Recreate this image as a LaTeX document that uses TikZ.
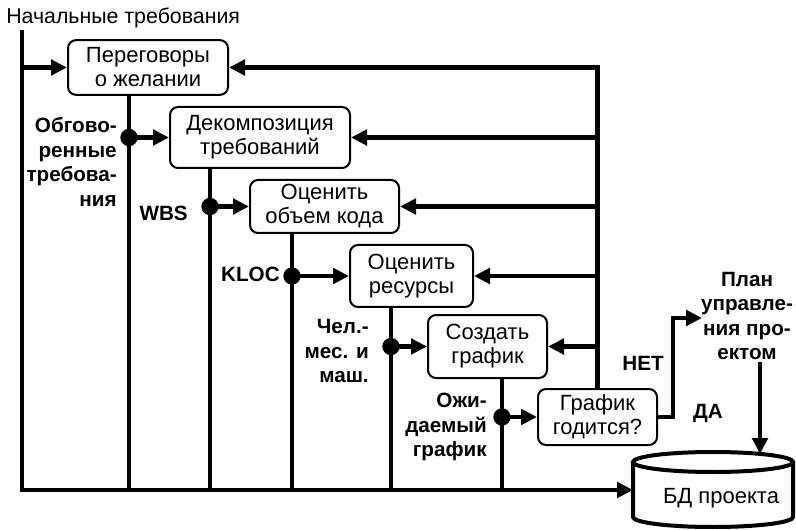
\documentclass[tikz,border=0pt]{standalone}
\usepackage{fontspec}
\setmainfont{Liberation Sans}
\usetikzlibrary{arrows.meta, positioning, calc}

\tikzset{
  block/.style={draw, line width=1.5pt, rounded corners=6pt, align=center,
    inner sep=0pt, font=\fontsize{16.5}{18}\selectfont},
  flow/.style={line width=3.5pt},
  arr/.style={flow, -{Triangle[length=12pt, width=11.5pt]}},
  lbl/.style={inner sep=0pt, font=\fontsize{15.5}{18.3}\selectfont\bfseries},
  dot/.style={circle, fill, inner sep=0pt, minimum size=13pt}
}

\begin{document}
\begin{tikzpicture}[x=0.75pt, y=0.75pt]
        \useasboundingbox (0,0) rectangle (796,529);

        % Draw the work steps
        \node[block, minimum width=120pt, minimum height=41pt] (nego) at (148,461.5) {Переговоры\\о желании};
        \node[block, minimum width=135pt, minimum height=45.75pt] (decomp) at (260,391.5) {Декомпозиция\\требований};
        \node[block, minimum width=111.75pt, minimum height=39.75pt] (size) at (324.5,322.5) {Оценить\\объем кода};
        \node[block, minimum width=92.25pt, minimum height=46.5pt] (res) at (411.5,253) {Оценить\\ресурсы};
        \node[block, minimum width=89.25pt, minimum height=47.25pt] (sched) at (487.5,182.5) {Создать\\график};
        \node[block, minimum width=89.25pt, minimum height=42pt] (check) at (597.5,112) {График\\годится?};

        % Draw the project database
        \draw[line width=3pt] (633,67) -- (633,12) arc[start angle=180, end angle=360, x radius=80, y radius=10] -- (793,67);
        \draw[line width=3pt] (713,67) ellipse [x radius=80, y radius=10];
        \node[block, draw=none] (db) at (721,31) {БД проекта};
        \coordinate (dbleft) at (633,39);
        \coordinate (dbtop) at (760,75);

        % Draw the input line
        \node[anchor=west, inner sep=0pt, font=\fontsize{16}{18}\selectfont] (init) at (6,511) {Начальные требования};
        \coordinate (start) at (22,499);
        \coordinate (base) at (22,39);
        \draw[arr] (start) -- (base) -- (dbleft);
        \draw[arr] (start |- nego.west) -- (nego.west);

        % Draw the outputs and taps
        \foreach \src/\dx/\dst in {nego/62/decomp, decomp/41/size, size/43/res, res/42/sched, sched/75/check} {
          \coordinate (tap-\src) at ($(\src.south west)+(\dx,0)$);
          \draw[flow] (tap-\src) -- (tap-\src |- base);
          \node[dot] (dot-\src) at (tap-\src |- \dst.west) {};
          \draw[arr] (dot-\src.center) -- (\dst.west);
        }

        % Draw the feedback line
        \draw[arr] (check.north) -- (check.north |- nego.east) -- (nego.east);
        \foreach \b in {decomp, size, res, sched}
          \draw[arr] (check.north |- \b.east) -- (\b.east);

        % Draw the check outputs
        \coordinate (turn) at (673,211);
        \coordinate (planin) at (702,211);
        \coordinate (planout) at (760,167);
        \draw[arr] (check.east) -- (check.east -| turn) -- (turn) -- (planin);
        \draw[arr] (planout) -- (dbtop);

        % Labels
        \node[lbl, anchor=east, align=right] (agreed) at (117,367) {Обгово-\\ренные\\требова-\\ния};
        \node[lbl, anchor=east] (wbs) at (188,316) {WBS};
        \node[lbl, anchor=east] (kloc) at (280,255) {KLOC};
        \node[lbl, anchor=east, align=right] (effort) at (369,178) {Чел.-\\мес. и\\маш.};
        \node[lbl, anchor=east, align=right] (expected) at (487,102) {Ожи-\\даемый\\график};
        \node[lbl] (no) at (643,166) {НЕТ};
        \node[lbl] (yes) at (708,116) {ДА};
        \node[lbl, align=center] (plan) at (747,213) {План\\управле-\\ния про-\\ектом};

\end{tikzpicture}
\end{document}
